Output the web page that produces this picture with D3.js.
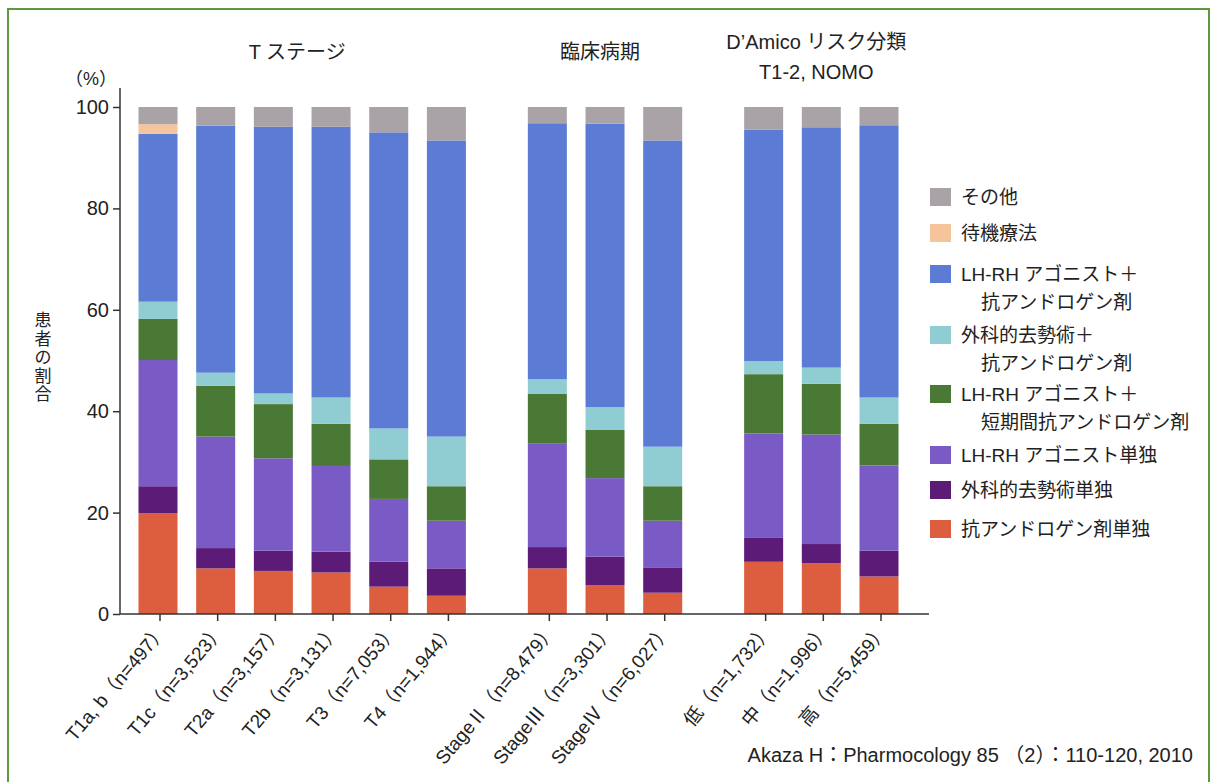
<!DOCTYPE html>
<html>
<head>
<meta charset="utf-8">
<script src="https://cdn.jsdelivr.net/npm/d3@7"></script>
<style>
  body { margin: 0; background: #fff; }
  svg { display: block; font-family: "Liberation Sans", Arial, "Noto Sans CJK JP", sans-serif; }
</style>
</head>
<body>
<div id="chart"></div>
<script>
// groups of bars and their headings
const groups = [
  ['T ステージ'],
  ['臨床病期'],
  ['D\u2019Amico リスク分類', 'T1-2, NOMO']
];

const categories = [
  'T1a, b（n=497）', 'T1c（n=3,523）', 'T2a（n=3,157）', 'T2b（n=3,131）', 'T3（n=7,053）', 'T4（n=1,944）',
  'StageⅡ（n=8,479）', 'StageⅢ（n=3,301）', 'StageⅣ（n=6,027）',
  '低（n=1,732）', '中（n=1,996）', '高（n=5,459）'
];
const categoryGroup = [0, 0, 0, 0, 0, 0, 1, 1, 1, 2, 2, 2];

// series, bottom to top
const seriesKeys = ['anti', 'surg', 'lhrh', 'lhrhShort', 'surgAnti', 'lhrhAnti', 'watch', 'other'];

const anti      = [19.9, 9.0, 8.5, 8.2, 5.4, 3.6, 9.0, 5.7, 4.2, 10.3, 10.0, 7.4];
const surg      = [5.3, 4.0, 4.0, 4.1, 4.9, 5.4, 4.2, 5.6, 5.0, 4.7, 3.8, 5.1];
const lhrh      = [24.9, 22.0, 18.2, 16.9, 12.4, 9.4, 20.5, 15.5, 9.2, 20.6, 21.6, 16.8];
const lhrhShort = [8.1, 10.0, 10.7, 8.3, 7.8, 6.8, 9.7, 9.5, 6.8, 11.7, 10.0, 8.2];
const surgAnti  = [3.4, 2.6, 2.1, 5.2, 6.1, 9.8, 2.9, 4.5, 7.8, 2.6, 3.2, 5.2];
const lhrhAnti  = [33.1, 48.7, 52.6, 53.4, 58.4, 58.4, 50.5, 55.9, 60.4, 45.6, 47.4, 53.7];
const watch     = [1.9, 0, 0, 0, 0, 0, 0, 0, 0, 0, 0, 0];
const other     = [3.4, 3.7, 3.9, 3.9, 5.0, 6.6, 3.2, 3.3, 6.6, 4.5, 4.0, 3.6];

const seriesValues = { anti, surg, lhrh, lhrhShort, surgAnti, lhrhAnti, watch, other };

const seriesColors = {
  other: '#a9a3a8',
  watch: '#f6c49b',
  lhrhAnti: '#5b7bd4',
  surgAnti: '#90cdd2',
  lhrhShort: '#4a7835',
  lhrh: '#7a5bc6',
  surg: '#5b1b77',
  anti: '#dc5e3f'
};

// legend, top to bottom
const legendKeys = ['other', 'watch', 'lhrhAnti', 'surgAnti', 'lhrhShort', 'lhrh', 'surg', 'anti'];
const legendLabels = [
  ['その他'],
  ['待機療法'],
  ['LH-RH アゴニスト＋', '抗アンドロゲン剤'],
  ['外科的去勢術＋', '抗アンドロゲン剤'],
  ['LH-RH アゴニスト＋', '短期間抗アンドロゲン剤'],
  ['LH-RH アゴニスト単独'],
  ['外科的去勢術単独'],
  ['抗アンドロゲン剤単独']
];

const yTicks = [0, 20, 40, 60, 80, 100];

const width = 1211, height = 782;
const groupGap = 0.75;
const textColor = '#222';

const svg = d3.select('#chart').append('svg')
  .attr('width', width)
  .attr('height', height);

// outer green frame
svg.append('rect')
  .attr('x', 8).attr('y', 9)
  .attr('width', 1201).attr('height', 790)
  .attr('fill', 'none')
  .attr('stroke', '#5e9a3c')
  .attr('stroke-width', 2);

const tableRows = categories.map((c, i) => {
  const row = { name: c, slot: i + categoryGroup[i] * groupGap };
  seriesKeys.forEach(k => { row[k] = seriesValues[k][i]; });
  return row;
});

const stacked = d3.stack().keys(seriesKeys)(tableRows);

const x = d3.scaleLinear()
  .domain([0, 11 + 2 * groupGap])
  .range([158, 879]);

const y = d3.scaleLinear()
  .domain([0, 100])
  .range([614, 107]);

const barW = 39;
const axisColor = '#333';

// bars
svg.append('g')
  .selectAll('g')
  .data(stacked)
  .join('g')
  .attr('fill', d => seriesColors[d.key])
  .selectAll('rect')
  .data(d => d)
  .join('rect')
  .attr('x', d => x(d.data.slot) - barW / 2)
  .attr('y', d => y(Math.min(d[1], 100)))
  .attr('width', barW)
  .attr('height', d => Math.max(0, y(d[0]) - y(Math.min(d[1], 100))));

// y axis
const yAxis = svg.append('g')
  .attr('transform', 'translate(120,0)')
  .call(d3.axisLeft(y).tickValues(yTicks).tickSize(7).tickPadding(4));
yAxis.select('.domain').remove();
yAxis.append('line')
  .attr('x1', 0).attr('x2', 0)
  .attr('y1', y(0)).attr('y2', 88)
  .attr('stroke', axisColor).attr('stroke-width', 1.5);
yAxis.selectAll('.tick line').attr('stroke', axisColor).attr('stroke-width', 1.5);
yAxis.selectAll('.tick text')
  .attr('fill', textColor)
  .attr('font-size', '20px')
  .attr('font-family', '"Liberation Sans", Arial, sans-serif');

svg.append('text')
  .attr('x', 91).attr('y', 85)
  .attr('text-anchor', 'middle')
  .attr('font-size', '18px')
  .attr('fill', textColor)
  .text('（%）');

// vertical y title, one character per line
const yTitle = '患者の割合';
svg.append('g')
  .selectAll('text')
  .data(yTitle.split(''))
  .join('text')
  .attr('x', 43)
  .attr('y', (d, i) => 326 + i * 18.5)
  .attr('text-anchor', 'middle')
  .attr('font-size', '17px')
  .attr('fill', textColor)
  .text(d => d);

// x axis
svg.append('line')
  .attr('x1', 120).attr('x2', 929)
  .attr('y1', y(0)).attr('y2', y(0))
  .attr('stroke', axisColor).attr('stroke-width', 1.5);

const xTicks = svg.append('g');
xTicks.selectAll('line')
  .data(tableRows)
  .join('line')
  .attr('x1', d => x(d.slot) + 2).attr('x2', d => x(d.slot) + 2)
  .attr('y1', y(0)).attr('y2', y(0) + 7)
  .attr('stroke', axisColor).attr('stroke-width', 1.5);

xTicks.selectAll('text')
  .data(tableRows)
  .join('text')
  .attr('transform', d => `translate(${x(d.slot) + 10},${y(0) + 17}) rotate(-50)`)
  .attr('text-anchor', 'end')
  .attr('font-size', '19px')
  .attr('fill', textColor)
  .text(d => d.name);

// group headings
groups.forEach((lines, g) => {
  const members = tableRows.filter((d, i) => categoryGroup[i] === g);
  const cx = (x(members[0].slot) + x(members[members.length - 1].slot)) / 2 - 5;
  const top = lines.length > 1 ? 49 : 59;
  lines.forEach((t, j) => {
    svg.append('text')
      .attr('x', cx)
      .attr('y', top + j * 30)
      .attr('text-anchor', 'middle')
      .attr('font-size', '20px')
      .attr('fill', textColor)
      .text(t);
  });
});

// legend
const legendY = [197, 233, 274, 335, 394, 455, 490, 529];
const legend = svg.append('g');
legendKeys.forEach((k, i) => {
  const item = legend.append('g').attr('transform', `translate(930,${legendY[i]})`);
  item.append('rect')
    .attr('x', 0).attr('y', -9)
    .attr('width', 21).attr('height', 18)
    .attr('fill', seriesColors[k]);
  legendLabels[i].forEach((t, j) => {
    item.append('text')
      .attr('x', j === 0 ? 31 : 51)
      .attr('y', j * 28)
      .attr('dy', '0.36em')
      .attr('font-size', '19px')
      .attr('fill', textColor)
      .text(t);
  });
});

// source note
svg.append('text')
  .attr('x', 1193).attr('y', 762)
  .attr('text-anchor', 'end')
  .attr('font-size', '20px')
  .attr('fill', textColor)
  .text('Akaza H：Pharmocology 85 （2）：110-120, 2010');
</script>
</body>
</html>
